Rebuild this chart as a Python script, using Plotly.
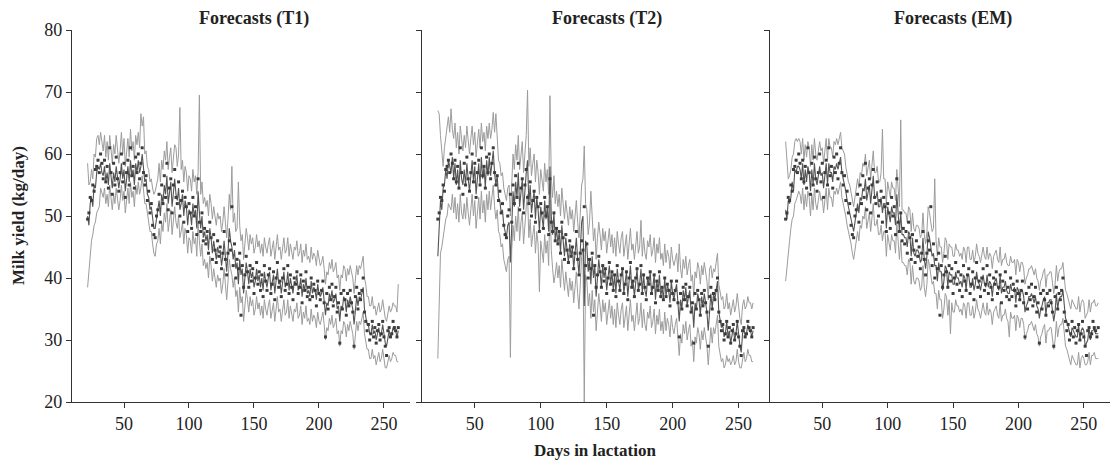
import plotly.graph_objects as go

# Observed milk yield (kg/day), days 22..261
obs = [
    49.5, 50.5, 53, 52.5, 55, 54, 57.5, 58, 59, 57,
    60, 58.5, 56, 59, 55.5, 58, 54.5, 61, 57, 53.5,
    58.5, 55, 59.5, 56, 54, 57, 60, 55.5, 58.5, 53,
    57, 59, 55, 61, 56.5, 58, 54.5, 59.5, 57, 60,
    56, 58.5, 61, 57, 55, 56.5, 52.5, 54, 50.5, 52,
    48.5, 47, 46.5, 50, 51, 53.5, 49, 55, 52, 56.5,
    53, 58.5, 51, 54.5, 56, 50.5, 55, 57.5, 53, 52,
    55.5, 50, 52.5, 54, 49, 53, 51.5, 47.5, 52, 50.5,
    48, 53, 50, 51.5, 47, 56, 49, 47.5, 50.5, 46,
    48, 45.5, 47.5, 44, 49, 46.5, 43, 47, 44.5, 42.5,
    46, 43.5, 45, 41.5, 44, 47.5, 43, 40.5, 44, 46,
    44.5, 51.5, 42, 45.5, 40, 43, 41.5, 44, 34, 42,
    38.5, 40.5, 43.5, 41, 38.5, 42, 39.5, 41.5, 37.5, 40,
    42.5, 39, 41, 38, 40.5, 37, 42, 39.5, 38, 40.5,
    41.5, 37.5, 39, 41, 36.5, 40, 42.5, 38.5, 39.5, 37,
    40, 41.5, 38, 39, 42, 37.5, 40.5, 38.5, 36.5, 40,
    39, 41, 37.5, 38.5, 40.5, 36, 39.5, 38, 41, 37,
    38.5, 36.5, 40, 37, 39, 38, 35.5, 39.5, 37.5, 36.5,
    38, 39.5, 36, 30.5, 37.5, 35, 38.5, 36.5, 39, 35.5,
    37, 38.5, 34.5, 36, 29.5, 37.5, 35, 38, 36.5, 34,
    37.5, 35.5, 38, 36, 34.5, 29, 37, 38.5, 35, 37.5,
    36.5, 38, 40, 34.5, 33, 31.5, 32.5, 30, 31, 33,
    30.5, 32, 29.5, 31.5, 32.5, 30, 31, 33, 30.5, 29,
    27.5, 31.5, 32, 30.5, 31, 33, 32, 31.5, 30.5, 32,
]

fc_t1 = [
    50, 48.5, 52, 53, 51.5, 55, 54.5, 57, 58, 57.5,
    58.5, 57, 56.5, 58, 55.5, 57, 55, 58.5, 56.5, 54.5,
    57, 55.5, 58, 56.5, 54.5, 56, 58.5, 56, 57.5, 54,
    56, 58, 55.5, 59, 56.5, 57.5, 55, 58.5, 57, 59,
    57, 58, 60, 57.5, 55.5, 56, 53.5, 53, 51, 51.5,
    49.5, 48, 48, 49.5, 50.5, 52.5, 50, 53.5, 52, 55,
    53.5, 56.5, 52, 54, 55.5, 51.5, 54.5, 56, 53.5, 52.5,
    54.5, 51, 52, 53.5, 50, 52.5, 51.5, 48.5, 51, 50.5,
    48.5, 52, 50, 51, 48, 54, 50.5, 48, 50, 46.5,
    47.5, 46, 47, 44.5, 48, 46.5, 44, 46, 44.5, 43,
    45, 44, 44.5, 42, 43.5, 46, 43.5, 41, 44, 48,
    46, 45, 43, 44.5, 41.5, 42.5, 39, 43, 40.5, 41.5,
    37.5, 40, 42.5, 41, 39, 41.5, 40, 41, 38.5, 39.5,
    41.5, 39.5, 40.5, 38.5, 40, 38, 41, 39.5, 38.5, 40,
    41, 38, 39, 40.5, 37.5, 39.5, 41.5, 39, 39.5, 37.5,
    39.5, 41, 38.5, 39, 41, 38, 40, 38.5, 37.5, 39.5,
    39, 40.5, 38, 38.5, 40, 37, 39, 38, 40, 37.5,
    38, 37, 39.5, 37.5, 38.5, 38, 36.5, 39, 37.5, 37,
    37.5, 38.5, 36.5, 34, 36, 35.5, 37.5, 36.5, 38, 36,
    36.5, 37.5, 35, 35.5, 33, 35.5, 35, 37, 36.5, 34.5,
    36.5, 35.5, 37, 36, 35, 32.5, 35, 37, 35.5, 37,
    36.5, 37.5, 38.5, 35, 34, 32.5, 32.5, 31, 31, 32.5,
    31, 31.5, 30, 31, 32, 30.5, 31, 32.5, 31, 29.5,
    29, 30.5, 31.5, 30.5, 31, 32, 31.5, 31.5, 30.5, 31.5,
]

up_t1 = [
    58.5, 55, 55.5, 57.5, 56, 60, 59.5, 62.5, 63, 61.5,
    63.5, 62, 60.5, 63, 59.5, 62, 59, 63, 61, 58.5,
    61.5, 60, 63, 61, 58.5, 60.5, 63.5, 60, 62.5, 58,
    60.5, 62.5, 59.5, 64, 60.5, 62, 59, 63, 61.5, 63.5,
    61, 66.5, 64.5, 66, 60, 60.5, 58, 57.5, 55.5, 56,
    54.5, 53.5, 54, 55, 56, 58.5, 55.5, 59, 57.5, 60.5,
    59, 62, 57.5, 59.5, 61, 57, 60, 61.5, 61, 58,
    60, 67.5, 57.5, 59, 55.5, 58, 57, 54, 56.5, 56,
    54, 57.5, 55.5, 56.5, 53.5, 57, 69.5, 53.5, 55.5, 52,
    53, 51.5, 52.5, 50, 53.5, 52, 49.5, 51.5, 50, 48.5,
    50.5, 49.5, 50, 47.5, 49, 51.5, 49, 46.5, 49.5, 53.5,
    51, 58, 49, 50.5, 47.5, 48, 55.5, 48.5, 46, 47,
    43, 45.5, 48, 46.5, 44.5, 47, 45.5, 46.5, 44, 45,
    47, 45, 46, 44, 45.5, 43.5, 46.5, 45, 44, 45.5,
    46.5, 43.5, 44.5, 46, 43, 45, 47, 44.5, 45, 43,
    45, 46.5, 44, 44.5, 46.5, 43.5, 45.5, 44, 43, 45,
    44.5, 46, 43.5, 44, 45.5, 42.5, 44.5, 43.5, 45.5, 43,
    43.5, 42.5, 45, 43, 44, 43.5, 42, 44.5, 43, 42,
    42.5, 43.5, 41.5, 39, 41, 40.5, 42.5, 41.5, 43, 41,
    41.5, 42.5, 40, 40.5, 38, 40.5, 40, 42, 41.5, 39.5,
    41.5, 40.5, 42, 41, 40, 37.5, 40, 42, 40.5, 42,
    41.5, 42.5, 43.5, 40, 39, 37, 37, 35.5, 35.5, 37,
    35, 35.5, 34, 35, 36, 34.5, 35, 36.5, 35, 33.5,
    33, 34.5, 35.5, 34.5, 35, 36, 35.5, 35.5, 34.5, 39,
]

lo_t1 = [
    38.5, 41, 43.5, 46, 47, 48.5, 49, 50.5, 51, 51.5,
    54.5, 53.5, 53, 54.5, 52, 53.5, 51.5, 55, 53, 51,
    53.5, 52, 54.5, 53, 51, 52.5, 55, 52.5, 54, 50.5,
    52.5, 54.5, 52, 55.5, 53, 54, 51.5, 55, 53.5, 55.5,
    53.5, 54.5, 56.5, 54, 52, 52, 50, 49, 47.5, 47.5,
    45.5, 44, 43.5, 45.5, 46, 48, 45.5, 49, 47.5, 50.5,
    49, 52, 47.5, 49.5, 51, 47, 50, 51.5, 49, 48,
    50, 46.5, 47.5, 49, 45.5, 48, 47, 44, 46.5, 46,
    44, 47.5, 45.5, 46.5, 43.5, 49, 46, 43.5, 45.5, 42,
    43, 41.5, 42.5, 40, 43.5, 42, 39.5, 41.5, 40, 38.5,
    40.5, 39.5, 40, 37.5, 39, 41.5, 39, 36.5, 39.5, 43,
    41.5, 40.5, 38.5, 40, 37, 38, 34.5, 38.5, 36, 37,
    33, 35.5, 38, 36.5, 34.5, 37, 35.5, 36.5, 34, 35,
    37, 35, 36, 34, 35.5, 33.5, 36.5, 35, 34, 35.5,
    36.5, 33.5, 34.5, 36, 33, 35, 37, 34.5, 35, 33,
    35, 36.5, 34, 34.5, 36.5, 33.5, 35.5, 34, 33, 35,
    34.5, 36, 33.5, 34, 35.5, 32.5, 34.5, 33.5, 35.5, 33,
    33.5, 32.5, 35, 33, 34, 33.5, 32, 34.5, 33, 32.5,
    33.5, 34.5, 32.5, 30, 32, 31.5, 33.5, 32.5, 34, 32,
    32.5, 33.5, 31, 31.5, 29, 31.5, 31, 33, 32.5, 30.5,
    32.5, 31.5, 33, 32, 31, 28.5, 31, 33, 31.5, 33,
    32.5, 33.5, 34.5, 31, 30, 28.5, 28.5, 27, 27, 28.5,
    27, 27.5, 26, 27, 28, 26.5, 27, 28.5, 27, 25.5,
    25.5, 26.5, 27.5, 26.5, 27, 28, 27.5, 27.5, 26.5, 26.5,
]

fc_t2 = [
    43.5, 49.5, 52.5, 51, 54.5, 55, 57.5, 56, 59, 58,
    57, 59.5, 56, 58.5, 55, 57.5, 54.5, 59, 56, 55,
    57.5, 55, 58.5, 56, 54, 56.5, 59, 55.5, 58, 53.5,
    56.5, 58.5, 55, 59.5, 56, 58, 54.5, 59, 56.5, 59.5,
    56.5, 58.5, 60.5, 57, 55, 56.5, 53, 52.5, 50.5, 51,
    48.5, 47.5, 46.5, 48.5, 49, 42.5, 50, 54, 51.5, 55.5,
    53, 57, 51.5, 54.5, 56, 51, 55, 57, 59, 52,
    55, 50.5, 52.5, 54, 49.5, 53, 51, 47.5, 51.5, 50,
    48, 52.5, 49.5, 51.5, 47.5, 58, 50, 47, 50.5, 46,
    48, 45.5, 47.5, 44, 48.5, 46, 43.5, 46.5, 44, 42.5,
    45.5, 43.5, 45, 41.5, 44, 46.5, 43, 40.5, 44.5, 49,
    50, 35.5, 46, 45, 41, 43, 39, 43.5, 40, 42,
    37, 40.5, 43, 41, 38.5, 42, 40, 41.5, 38, 40,
    42, 39, 41, 38, 40.5, 37.5, 41.5, 39.5, 38, 40.5,
    41.5, 37.5, 39, 41, 37, 40, 42, 38.5, 39.5, 37,
    40, 41.5, 38, 39, 41.5, 37.5, 40.5, 38, 37, 40,
    39, 41, 37.5, 38.5, 40.5, 36.5, 39.5, 38, 40.5, 37,
    38.5, 36.5, 40, 37, 39, 38, 36, 39.5, 37.5, 36.5,
    38, 39, 36, 33, 36.5, 35, 38, 36.5, 38.5, 35.5,
    37, 38, 34.5, 35.5, 32, 36, 35, 37.5, 36.5, 34,
    37, 35.5, 37.5, 36, 34.5, 31.5, 35.5, 37.5, 35, 37.5,
    36.5, 38, 39.5, 34.5, 33.5, 32, 32.5, 30.5, 31, 33,
    30.5, 31.5, 29.5, 31, 32, 30, 31, 33, 30.5, 29,
    28, 31, 32, 30.5, 31, 32.5, 31.5, 31.5, 30.5, 31.5,
]

up_t2 = [
    67, 66.5, 63, 60, 58, 61, 62.5, 64, 66, 63.5,
    67.3, 64, 62.5, 65, 61, 63.5, 60, 64.5, 62, 60.5,
    63, 61, 64.5, 62, 60, 62.5, 64.5, 61.5, 63.5, 59.5,
    62, 64, 61, 65, 62, 63.5, 60.5, 64.5, 62.5, 65,
    62.5, 64, 66.7, 63.5, 66.5, 62.5, 59, 58.5, 56.5, 57,
    54.5, 53.5, 52.5, 54.5, 55, 50, 56, 60, 57.5, 61.5,
    59, 63, 57.5, 60.5, 62, 57, 61, 63, 70.3, 58,
    61, 56.5, 58.5, 60, 55.5, 59, 57, 53.5, 57.5, 56,
    54, 58.5, 55.5, 57.5, 53.5, 69.4, 56, 53, 56.5, 52,
    54, 51.5, 53.5, 50, 54.5, 52, 49.5, 52.5, 50, 48.5,
    51.5, 49.5, 51, 47.5, 50, 52.5, 49, 46.5, 50.5, 55,
    56, 61.3, 52, 51, 47, 49, 54, 49.5, 46, 48,
    43, 46.5, 49, 47, 44.5, 48, 46, 47.5, 44, 46,
    48, 45, 47, 44, 46.5, 43.5, 47.5, 45.5, 44, 46.5,
    47.5, 43.5, 45, 47, 43, 46, 48, 44.5, 45.5, 43,
    46, 47.5, 44, 45, 49.3, 43.5, 46.5, 44, 43, 46,
    45, 47, 43.5, 44.5, 46.5, 42.5, 45.5, 44, 46.5, 43,
    44, 42, 45.5, 42.5, 44.5, 43.5, 41.5, 45, 43, 42,
    43, 44, 41, 45.5, 41.5, 40, 43, 41.5, 43.5, 40.5,
    42, 43, 39.5, 40.5, 37, 41, 40, 42.5, 41.5, 39,
    42, 40.5, 42.5, 41, 39.5, 36.5, 41.5, 42, 40, 41.5,
    41, 42.5, 44, 39, 38, 36.5, 37, 35, 35.5, 37.5,
    35, 36, 34, 35.5, 36.5, 34.5, 35.5, 37.5, 35, 33.5,
    32.5, 35.5, 36.5, 35, 35.5, 37, 36, 36, 35, 36,
]

lo_t2 = [
    27, 35.5, 44, 45, 46.5, 48, 49.5, 50, 52, 51.5,
    51, 53.5, 50.5, 53, 49.5, 52, 49, 53.5, 50.5, 49.5,
    52, 49.5, 53, 50.5, 48.5, 51, 53.5, 50, 52.5, 48,
    51, 53, 49.5, 54, 50.5, 52.5, 49, 53.5, 51, 54,
    51, 53, 55, 51.5, 49.5, 51, 47.5, 47, 45, 45.5,
    43, 42, 41, 43, 43.5, 27.2, 44.5, 48.5, 46, 50,
    47.5, 51.5, 46, 49, 50.5, 45.5, 49.5, 51.5, 53.5, 46.5,
    49.5, 45, 47, 48.5, 44, 47.5, 45.5, 37.8, 46, 44.5,
    42.5, 47, 44, 46, 42, 52.5, 44.5, 41.5, 39.2, 40.5,
    42.5, 40, 42, 38.5, 43, 40.5, 38, 41, 38.5, 37,
    40, 38, 39.5, 36, 38.5, 41, 37.5, 35, 39, 43.5,
    44.5, 20, 40.5, 39.5, 35.5, 37.5, 33.5, 38, 34.5, 36.5,
    31.5, 35, 37.5, 35.5, 33, 36.5, 34.5, 36, 32.5, 34.5,
    36.5, 33.5, 35.5, 32.5, 35, 32, 36, 34, 32.5, 35,
    36, 32, 33.5, 35.5, 31.5, 34.5, 36.5, 33, 34, 31.5,
    34.5, 36, 32.5, 33.5, 36, 32, 35, 32.5, 31.5, 34.5,
    33.5, 35.5, 32, 33, 35, 31, 34, 32.5, 35, 31.5,
    33, 31, 34.5, 31.5, 33.5, 32.5, 30.5, 34, 32, 31,
    32.5, 33.5, 30.5, 27.5, 31, 29.5, 32.5, 31, 33, 30,
    31.5, 32.5, 29, 30, 26.5, 30.5, 29.5, 32, 31, 28.5,
    31.5, 30, 32, 30.5, 29, 26, 30, 32, 29.5, 32,
    31, 32.5, 34, 29, 28, 26.5, 27, 25.5, 26, 27.5,
    26.5, 27, 26, 26.5, 27.5, 26, 26.5, 28.5, 26.5, 25.5,
    25.5, 27, 28, 26.5, 27, 28.5, 27.5, 27.5, 26.5, 26.5,
]

fc_em = [
    51, 49.5, 52.5, 52, 53, 55.5, 54, 57.5, 57, 58,
    58, 57.5, 56, 58.5, 55, 57.5, 55.5, 58, 57, 54,
    57.5, 55, 58.5, 56, 55, 56.5, 58, 56.5, 57, 54.5,
    56.5, 58.5, 55, 58.5, 57, 57, 55.5, 58, 57.5, 58.5,
    57.5, 58.5, 59.5, 57, 56, 55.5, 54, 52.5, 51.5, 51,
    50, 48.5, 47.5, 49, 51, 52, 50.5, 53, 52.5, 54.5,
    54, 56, 52.5, 53.5, 55, 52, 54, 56.5, 53, 53,
    54, 51.5, 51.5, 53, 50.5, 52, 52, 48, 51.5, 50,
    49, 51.5, 50.5, 50.5, 48.5, 53.5, 51, 47.5, 50.5, 47,
    47, 46.5, 46.5, 45, 47.5, 47, 43.5, 46.5, 44, 43.5,
    44.5, 44.5, 44, 42.5, 43, 46.5, 43, 41.5, 43.5, 47.5,
    46.5, 44.5, 43.5, 44, 42, 42, 39.5, 42.5, 41, 41,
    38, 39.5, 42, 41.5, 38.5, 41, 40.5, 40.5, 39, 39,
    41, 40, 40, 39, 39.5, 38.5, 40.5, 40, 38, 40.5,
    40.5, 38.5, 38.5, 40, 38, 39, 41, 39.5, 39, 38,
    39, 40.5, 39, 38.5, 40.5, 38.5, 39.5, 39, 37, 39,
    39.5, 40, 38.5, 38, 40.5, 37.5, 38.5, 38.5, 39.5, 38,
    37.5, 37.5, 39, 38, 38, 38.5, 36, 38.5, 38, 36.5,
    38, 38, 37, 34.5, 35.5, 36, 37, 37, 37.5, 36.5,
    36, 37, 35.5, 35, 33.5, 35, 35.5, 36.5, 37, 34,
    36, 36, 36.5, 36.5, 34.5, 33, 34.5, 37.5, 35, 36.5,
    37, 37, 38, 35.5, 33.5, 33, 32, 31.5, 30.5, 32,
    31.5, 31, 30.5, 30.5, 32.5, 30, 31.5, 32, 31.5, 29,
    29.5, 30, 32, 30, 31.5, 31.5, 32, 31, 31, 31,
]

up_em = [
    62, 58, 56, 56.5, 57.5, 59.5, 60, 62, 62.5, 62,
    62.5, 62, 60, 62.5, 59, 61.5, 59.5, 62, 61, 58,
    61.5, 59, 62.5, 60, 59, 60.5, 62, 60.5, 61, 58.5,
    60.5, 62.5, 59, 62.5, 61, 61, 59.5, 62, 61.5, 62.5,
    61.5, 62.5, 63.5, 61, 60.5, 60, 58, 56.5, 55.5, 55,
    54, 52.5, 51.5, 53, 55, 56, 54.5, 57, 56.5, 58.5,
    58, 60, 56.5, 57.5, 59, 56, 58, 60.5, 57, 57,
    58, 55.5, 55.5, 57, 64, 56, 56, 52, 55.5, 54,
    53, 55.5, 54.5, 54.5, 52.5, 57.5, 55, 51.5, 65.5, 51,
    51, 50.5, 50.5, 49, 51.5, 51, 47.5, 50.5, 48, 47.5,
    48.5, 48.5, 48, 46.5, 47, 50.5, 47, 45.5, 47.5, 51.5,
    50.5, 48.5, 47.5, 48, 56, 46, 43.5, 46.5, 45, 45,
    42.5, 44, 46.5, 46, 43, 45.5, 45, 45, 43.5, 43.5,
    45.5, 44.5, 44.5, 43.5, 44, 43, 45, 44.5, 42.5, 45,
    45, 43, 43, 44.5, 42.5, 43.5, 45.5, 44, 43.5, 42.5,
    43.5, 45, 43.5, 43, 45, 43, 44, 43.5, 41.5, 43.5,
    44, 44.5, 43, 42.5, 45, 42, 43, 43, 44, 42.5,
    42, 42, 43.5, 42.5, 42.5, 43, 40.5, 43, 42.5, 41,
    42.5, 42.5, 41.5, 39, 40, 40.5, 41.5, 41.5, 42, 41,
    40.5, 41.5, 40, 39.5, 38, 39.5, 40, 41, 41.5, 38.5,
    40.5, 40.5, 41, 41, 39, 37.5, 39, 42, 39.5, 41,
    41.5, 41.5, 42.5, 40, 38, 37.5, 36.5, 36, 35, 36.5,
    36, 35.5, 35, 35, 37, 34.5, 36, 36.5, 36, 33.5,
    34, 34.5, 36.5, 34.5, 36, 36, 36.5, 35.5, 35.5, 36,
]

lo_em = [
    39.5, 42, 44.5, 46, 48, 49.5, 50, 52, 52.5, 53.5,
    54, 53.5, 52, 54.5, 51, 53.5, 51.5, 54, 53, 50,
    53.5, 51, 54.5, 52, 51, 52.5, 54, 52.5, 53, 50.5,
    52.5, 54.5, 51, 54.5, 53, 53, 51.5, 54, 53.5, 54.5,
    53.5, 54.5, 55.5, 53, 52, 51.5, 50, 48.5, 47.5, 47,
    45.5, 44, 43, 44.5, 46.5, 47.5, 46, 48.5, 48, 50,
    49.5, 51.5, 48, 49, 50.5, 47.5, 49.5, 52, 48.5, 48.5,
    49.5, 47, 47, 48.5, 46, 47.5, 47.5, 43.5, 47, 45.5,
    44.5, 47, 46, 46, 44, 49, 46.5, 43, 46, 42.5,
    42.5, 42, 42, 40.5, 43, 42.5, 39, 42, 39.5, 39,
    40, 40, 39.5, 38, 38.5, 42, 38.5, 37, 39, 43,
    42, 40, 39, 39.5, 37.5, 37.5, 35, 38, 36.5, 36.5,
    33.5, 35, 37.5, 37, 34, 36.5, 31, 36, 34.5, 34.5,
    36.5, 35.5, 35.5, 34.5, 35, 34, 36, 35.5, 33.5, 36,
    36, 34, 34, 35.5, 33.5, 34.5, 36.5, 35, 34.5, 33.5,
    34.5, 36, 34.5, 34, 36, 34, 35, 34.5, 32.5, 34.5,
    35, 35.5, 34, 33.5, 36, 33, 34, 34, 35, 33.5,
    33, 30.5, 34.5, 33.5, 33.5, 34, 31.5, 34, 33.5, 32,
    33.5, 33.5, 32.5, 30, 31, 31.5, 32.5, 32.5, 33, 32,
    31.5, 32.5, 31, 30.5, 29, 30.5, 31, 32, 32.5, 29.5,
    31.5, 31.5, 32, 32, 30, 28.5, 30, 33, 30.5, 32,
    32.5, 32.5, 33.5, 31, 29, 28.5, 27.5, 27, 26, 27.5,
    27, 26.5, 26, 26, 28, 25.5, 27, 27.5, 27, 26,
    26, 26.5, 28, 26, 27.5, 27.5, 28, 27, 27, 27,
]

panel_titles = ["Forecasts (T1)", "Forecasts (T2)", "Forecasts (EM)"]
x_ticks = [50, 100, 150, 200, 250]
y_ticks = [20, 30, 40, 50, 60, 70, 80]
x_title = "Days in lactation"
y_title = "Milk yield (kg/day)"

first_day = 22
def days_for(series):
    return list(range(first_day, first_day + len(series)))

FONT = "Liberation Serif, Times New Roman, serif"
AX = "#333333"
BAND = "#9c9c9c"
FC = "#555555"
PT = "#3c3c3c"

panels = [
    (fc_t1, up_t1, lo_t1),
    (fc_t2, up_t2, lo_t2),
    (fc_em, up_em, lo_em),
]
domains = [[0.0, 0.3256], [0.3372, 0.6676], [0.6724, 1.0]]

fig = go.Figure()
for i, (fc, up, lo) in enumerate(panels):
    xa = "x" if i == 0 else f"x{i+1}"
    ya = "y" if i == 0 else f"y{i+1}"
    for s, col, w in [(up, BAND, 1), (lo, BAND, 1), (fc, FC, 1.1)]:
        fig.add_trace(go.Scatter(x=days_for(s), y=s, mode="lines",
                                 line=dict(color=col, width=w),
                                 xaxis=xa, yaxis=ya, showlegend=False,
                                 hoverinfo="skip"))
    fig.add_trace(go.Scatter(x=days_for(obs), y=obs, mode="markers",
                             marker=dict(symbol="square", size=3, color=PT,
                                         line=dict(width=0)),
                             xaxis=xa, yaxis=ya, showlegend=False))

layout = dict(
    width=1118, height=465,
    margin=dict(l=64, r=16, t=17, b=71),
    plot_bgcolor="white", paper_bgcolor="white",
    font=dict(family=FONT, size=18, color="#222222"),
    showlegend=False,
)
for i in range(3):
    xk = "xaxis" if i == 0 else f"xaxis{i+1}"
    yk = "yaxis" if i == 0 else f"yaxis{i+1}"
    layout[xk] = dict(domain=domains[i], range=[10, 270], tickvals=x_ticks,
                      showline=True, linecolor=AX, linewidth=1.2,
                      ticks="outside", ticklen=5, tickcolor=AX,
                      showgrid=False, zeroline=False,
                      anchor="y" if i == 0 else f"y{i+1}",
                      tickfont=dict(family=FONT, size=18, color="#222"))
    layout[yk] = dict(domain=[0, 1], range=[20, 80], tickvals=y_ticks,
                      showline=True, linecolor=AX, linewidth=1.2,
                      ticks="outside", ticklen=5, tickcolor=AX,
                      showgrid=False, zeroline=False,
                      showticklabels=(i == 0),
                      anchor="x" if i == 0 else f"x{i+1}",
                      tickfont=dict(family=FONT, size=18, color="#222"))
fig.update_layout(**layout)

for i, t in enumerate(panel_titles):
    fig.add_annotation(text=f"<b>{t}</b>", x=150,
                       xref="x" if i == 0 else f"x{i+1}",
                       y=1, yref="paper", yanchor="bottom", yshift=-1,
                       showarrow=False, font=dict(family=FONT, size=18, color="#222"))

fig.add_annotation(text=f"<b>{x_title}</b>", x=0.504, xref="paper",
                   y=0, yref="paper", yanchor="middle", yshift=-48,
                   showarrow=False, font=dict(family=FONT, size=17, color="#222"))
fig.add_annotation(text=f"<b>{y_title}</b>", x=0, xref="paper", xanchor="center",
                   xshift=-54, y=0.5, yref="paper", textangle=-90,
                   showarrow=False, font=dict(family=FONT, size=17, color="#222"))

fig.write_html("out.html")
